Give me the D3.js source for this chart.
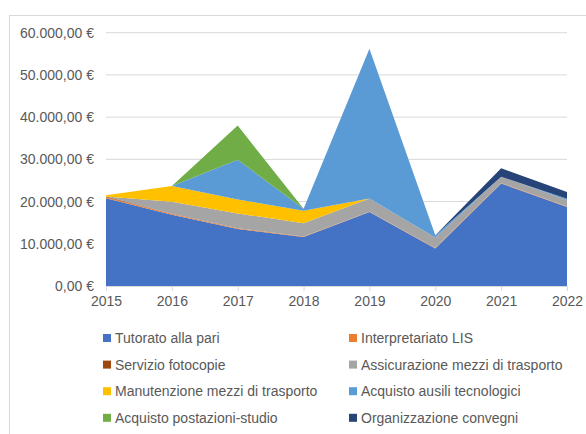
<!DOCTYPE html>
<html><head><meta charset="utf-8">
<script src="https://cdn.jsdelivr.net/npm/d3@7"></script>
<style>body{margin:0;background:#fff}svg{display:block}</style>
</head><body>
<script>
const years = ["2015","2016","2017","2018","2019","2020","2021","2022"];
const seriesNames = ["Tutorato alla pari","Interpretariato LIS","Servizio fotocopie","Assicurazione mezzi di trasporto","Manutenzione mezzi di trasporto","Acquisto ausili tecnologici","Acquisto postazioni-studio","Organizzazione convegni"];
const colors = ["#4472C4","#ED7D31","#9E480E","#A5A5A5","#FFC000","#5B9BD5","#70AD47","#264478"];
const tutorato     = [20800,16900,13500,11600,17500, 8900,24300,18700];
const lis          = [  200,  150,  200,  150,  100,  100,  100,  150];
const fotocopie    = [  200,   50,    0,    0,    0,    0,    0,    0];
const assicuraz    = [    0, 2850, 3500, 3100, 3100, 2500, 1500, 1500];
const manutenzione = [  300, 3750, 3300, 2950,    0,    0,    0,    0];
const ausili       = [    0,    0, 9400,  500,35500,  550,    0,  300];
const postazioni   = [    0,    0, 8100,    0,    0,    0,    0,    0];
const convegni     = [    0,    0,    0,    0,    0,    0, 2000, 1600];
const yTicks = [0,10000,20000,30000,40000,50000,60000];

const values = [tutorato,lis,fotocopie,assicuraz,manutenzione,ausili,postazioni,convegni];
const data = years.map((y,i)=>{const o={year:y}; seriesNames.forEach((s,k)=>o[s]=values[k][i]); return o;});

const W=586,H=434;
const FONT="Liberation Sans, Arial, sans-serif";
const svg=d3.select("body").append("svg").attr("width",W).attr("height",H);
svg.append("rect").attr("x",9.5).attr("y",15.5).attr("width",W).attr("height",H).attr("fill","#fff").attr("stroke","#d9d9d9");

const x=d3.scalePoint().domain(years).range([106,567]);
const y=d3.scaleLinear().domain([0,60000]).range([286,32.7]);

const fmt = v => d3.format(",.2f")(v).replace(/,/g,"#").replace(/\./g,",").replace(/#/g,".") + " €";

// gridlines
svg.append("g").selectAll("line").data(yTicks.filter(d=>d>0)).join("line")
  .attr("x1",106).attr("x2",567).attr("y1",d=>y(d)).attr("y2",d=>y(d))
  .attr("stroke","#d9d9d9").attr("stroke-width",1);

const stack=d3.stack().keys(seriesNames);
const layers=stack(data);
const area=d3.area().x(d=>x(d.data.year)).y0(d=>y(d[0])).y1(d=>y(d[1]));
svg.append("g").selectAll("path").data(layers).join("path")
  .attr("d",area).attr("fill",(d,i)=>colors[i]);

// y axis
const ya=svg.append("g").attr("transform","translate(106,0)").call(d3.axisLeft(y).tickValues(yTicks).tickFormat(fmt).tickSize(0).tickPadding(12));
ya.select(".domain").remove();
ya.selectAll("text").attr("fill","#595959").attr("font-size","14px").attr("font-family",FONT);

// x axis
const xa=svg.append("g").attr("transform","translate(0,286)").call(d3.axisBottom(x).tickSize(5).tickPadding(5));
xa.select(".domain").attr("stroke","#d9d9d9");
xa.selectAll(".tick line").attr("stroke","#d9d9d9");
xa.selectAll("text").attr("fill","#595959").attr("font-size","14px").attr("font-family",FONT);

// legend
const lg=svg.append("g");
seriesNames.forEach((s,i)=>{
  const col=i%2,row=Math.floor(i/2);
  const lx= col===0?103:349, ly=338+row*26.6;
  lg.append("rect").attr("x",lx).attr("y",ly-4).attr("width",8).attr("height",8).attr("fill",colors[i]);
  lg.append("text").attr("x",lx+12).attr("y",ly).attr("dy","0.35em").text(s)
    .attr("fill","#595959").attr("font-size","14px").attr("font-family",FONT);
});
</script>
</body></html>
